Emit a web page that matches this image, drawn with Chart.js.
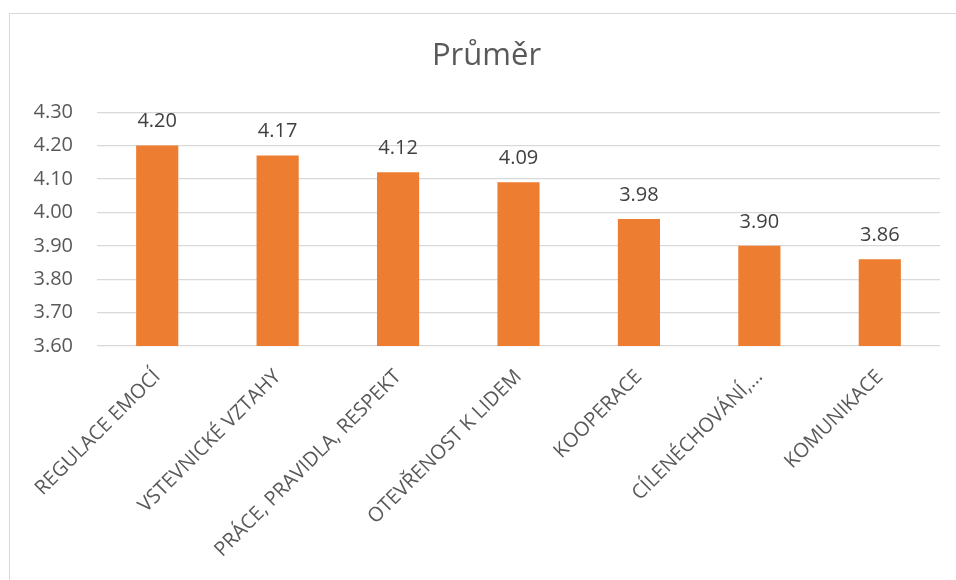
<!DOCTYPE html>
<html lang="cs">
<head>
<meta charset="utf-8">
<title>Průměr</title>
<script src="https://cdn.jsdelivr.net/npm/chart.js@4/dist/chart.umd.min.js"></script>
<style>
    html, body {
        margin: 0;
        padding: 0;
        background: #ffffff;
        overflow: hidden;
        width: 956px;
        height: 580px;
    }
    .frame {
        position: absolute;
        left: 9px;
        top: 13px;
        width: 980px;
        height: 600px;
        border: 1px solid #d9d9d9;
        box-sizing: border-box;
    }
    .chart-box {
        position: absolute;
        left: 10px;
        top: 14px;
        width: 960px;
        height: 566px;
    }
</style>
</head>
<body>
<div class="frame"></div>
<div class="chart-box">
    <canvas id="prumerChart"></canvas>
</div>
<script>
const kategorie = [
    'REGULACE EMOCÍ',
    'VSTEVNICKÉ VZTAHY',
    'PRÁCE, PRAVIDLA, RESPEKT',
    'OTEVŘENOST K LIDEM',
    'KOOPERACE',
    'CÍLENÉCHOVÁNÍ,…',
    'KOMUNIKACE'
];
const prumery = [4.20, 4.17, 4.12, 4.09, 3.98, 3.90, 3.86];
const osaY = [3.60, 3.70, 3.80, 3.90, 4.00, 4.10, 4.20, 4.30];

const pismo = "'Open Sans', 'DejaVu Sans', sans-serif";

// popisky hodnot nad sloupci
const popiskyHodnot = {
    id: 'popiskyHodnot',
    afterDatasetsDraw(chart) {
        const ctx = chart.ctx;
        const meta = chart.getDatasetMeta(0);
        ctx.save();
        ctx.font = '20px ' + pismo;
        ctx.fillStyle = '#404040';
        ctx.textAlign = 'center';
        ctx.textBaseline = 'middle';
        meta.data.forEach((bar, i) => {
            ctx.fillText(prumery[i].toFixed(2), bar.x, bar.y - 24);
        });
        ctx.restore();
    }
};

new Chart(document.getElementById('prumerChart'), {
    type: 'bar',
    data: {
        labels: kategorie,
        datasets: [{
            label: 'Průměr',
            data: prumery,
            backgroundColor: '#ED7D31',
            borderWidth: 0,
            barPercentage: 0.35,
            categoryPercentage: 1.0
        }]
    },
    options: {
        responsive: true,
        maintainAspectRatio: false,
        animation: false,
        layout: {
            padding: { left: 23, right: 30, top: 0, bottom: 0 }
        },
        scales: {
            x: {
                grid: { display: false },
                border: { display: false },
                ticks: {
                    color: '#595959',
                    font: { family: pismo, size: 20 },
                    minRotation: 45,
                    maxRotation: 45,
                    autoSkip: false,
                    padding: 11
                },
                afterFit: (scale) => { scale.height = 234; }
            },
            y: {
                min: 3.6,
                max: 4.3,
                afterBuildTicks: (scale) => {
                    scale.ticks = osaY.map(v => ({ value: v }));
                },
                grid: {
                    color: '#d9d9d9',
                    lineWidth: 1.3,
                    drawTicks: false
                },
                border: { display: false },
                ticks: {
                    color: '#595959',
                    font: { family: pismo, size: 20 },
                    padding: 24,
                    callback: (v) => Number(v).toFixed(2)
                },
                afterFit: (scale) => { scale.width = 64; }
            }
        },
        plugins: {
            legend: { display: false },
            tooltip: { enabled: false },
            title: {
                display: true,
                text: 'Průměr',
                color: '#595959',
                font: { family: pismo, size: 31, weight: 'normal' },
                padding: { top: 24, bottom: 37 }
            }
        }
    },
    plugins: [popiskyHodnot]
});
</script>
</body>
</html>
